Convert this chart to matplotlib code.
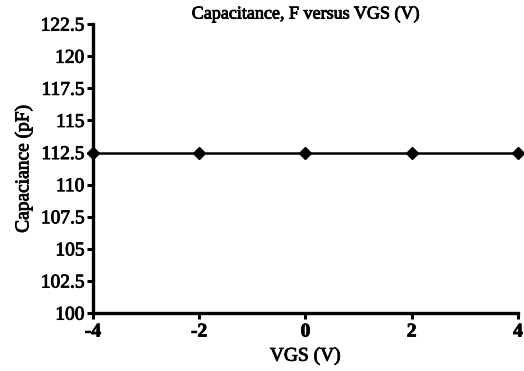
import matplotlib
matplotlib.use("Agg")
import matplotlib.pyplot as plt
import matplotlib.patheffects as pe

vgs = [-4, -2, 0, 2, 4]
capacitance = [112.5, 112.5, 112.5, 112.5, 112.5]
y_ticks = [100, 102.5, 105, 107.5, 110, 112.5, 115, 117.5, 120, 122.5]
y_tick_labels = ["100", "102.5", "105", "107.5", "110", "112.5", "115", "117.5", "120", "122.5"]
x_ticks = [-4, -2, 0, 2, 4]

plt.rcParams['font.family'] = ['Liberation Serif', 'DejaVu Serif']

# slight stroke to mimic the heavy text rendering of the original
heavy = [pe.withStroke(linewidth=0.6, foreground='black')]

fig = plt.figure(figsize=(5.24, 3.71), dpi=100)
ax = fig.add_axes([0.1775, 0.156, 0.811, 0.779])

ax.plot(vgs, capacitance, color='black', linewidth=1.8, marker='D', markersize=6.5,
        clip_on=False, zorder=3)

ax.set_xlim(-4, 4)
ax.set_ylim(100, 122.5)
ax.set_xticks(x_ticks)
ax.set_xticklabels([str(v) for v in x_ticks], fontsize=14, fontweight='bold')
ax.set_yticks(y_ticks)
ax.set_yticklabels(y_tick_labels, fontsize=14)

for side in ['top', 'right']:
    ax.spines[side].set_visible(False)
for side in ['left', 'bottom']:
    ax.spines[side].set_linewidth(2.4)
ax.tick_params(width=2.2, length=4.5)
ax.tick_params(axis='x', pad=3)
ax.tick_params(axis='y', pad=1.5)

ax.set_xlabel('VGS (V)', fontsize=14, labelpad=5)
ax.set_ylabel('Capaciance (pF)', fontsize=14, labelpad=6)
ax.set_title('Capacitance, F versus VGS (V)', fontsize=13, pad=4)

for t in ax.get_yticklabels() + ax.get_xticklabels() + [ax.xaxis.label, ax.yaxis.label, ax.title]:
    t.set_path_effects(heavy)

fig.savefig('out.png', dpi=100)
